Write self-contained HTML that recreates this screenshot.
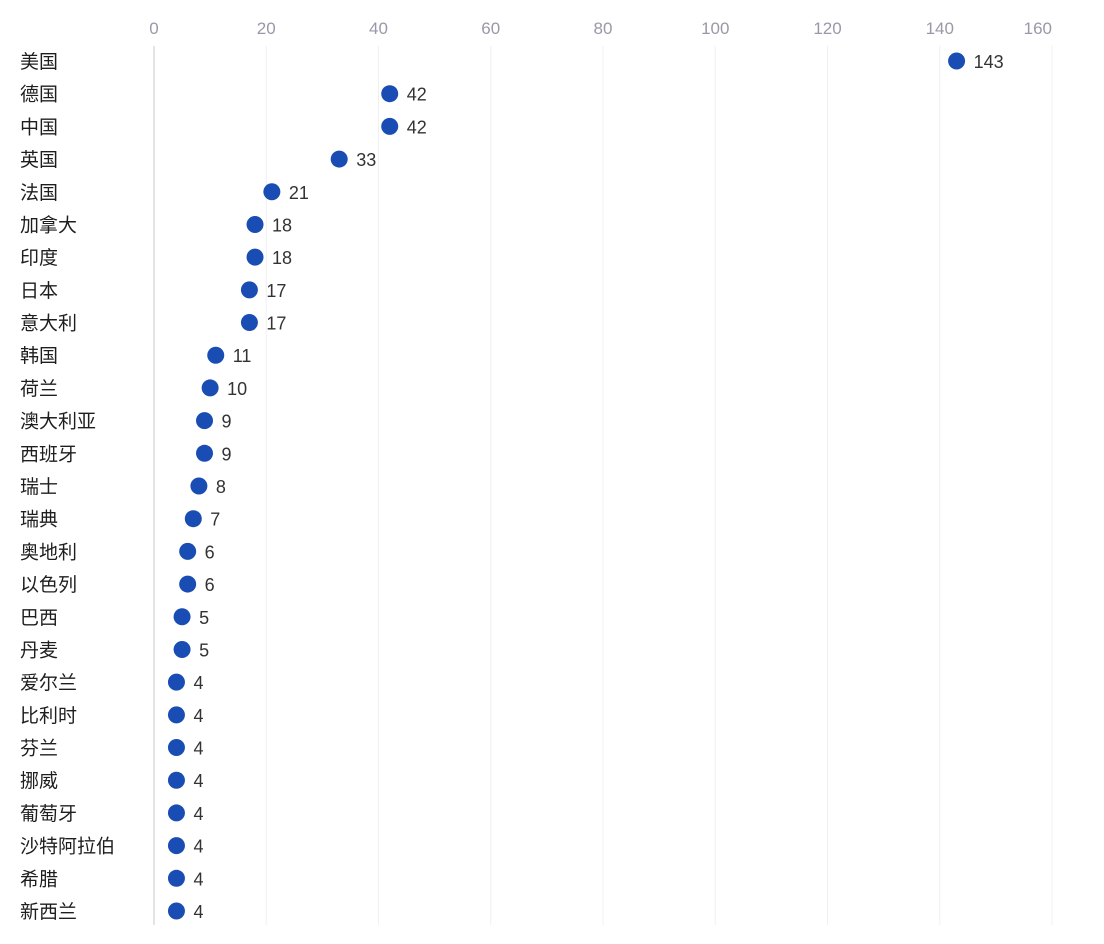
<!DOCTYPE html>
<html><head><meta charset="utf-8"><style>
html,body{margin:0;padding:0;background:#fff;}
svg{display:block;font-family:"Liberation Sans","Noto Sans CJK SC",sans-serif;}
</style></head><body>
<svg id="chart" width="1104" height="944"></svg>
<script>
const categories=["美国","德国","中国","英国","法国","加拿大","印度","日本","意大利","韩国","荷兰","澳大利亚","西班牙","瑞士","瑞典","奥地利","以色列","巴西","丹麦","爱尔兰","比利时","芬兰","挪威","葡萄牙","沙特阿拉伯","希腊","新西兰"];
const values=[143,42,42,33,21,18,18,17,17,11,10,9,9,8,7,6,6,5,5,4,4,4,4,4,4,4,4];
const ticks=[0,20,40,60,80,100,120,140,160];
const NS="http://www.w3.org/2000/svg";
const svg=document.getElementById('chart');
const x0=154,x1=1052,vmax=160,yTop=61,yBot=911;
const xs=v=>x0+(v/vmax)*(x1-x0);
const ys=i=>yTop+i*(yBot-yTop)/(categories.length-1);
function mk(t,a){const e=document.createElementNS(NS,t);for(const k in a)e.setAttribute(k,a[k]);svg.appendChild(e);return e;}
ticks.forEach((t,i)=>{
  const g=mk('line',{x1:xs(t),x2:xs(t),y1:46,y2:925,stroke:i===0?'#c8c8d0':'#f0f0f4','stroke-width':1});
  
  
  const last=i===ticks.length-1;
  const tl=mk('text',{x:xs(t),y:34,'text-anchor':last?'end':'middle','font-size':17,fill:'#9a98a8'});
  tl.textContent=t;
  
  
});
categories.forEach((c,i)=>{
  const y=ys(i);
  const l=mk('text',{x:20,y:y+7,'font-size':19,fill:'#1e1e1e'});
  l.textContent=c;
  
  
  const d=mk('circle',{cx:xs(values[i]),cy:y,r:8.5,fill:'#1a4db3'});
  
  
  const v=mk('text',{x:xs(values[i])+17,y:y+7,'font-size':18,fill:'#333'});
  v.textContent=values[i];
  
  
});
</script>
</body></html>
